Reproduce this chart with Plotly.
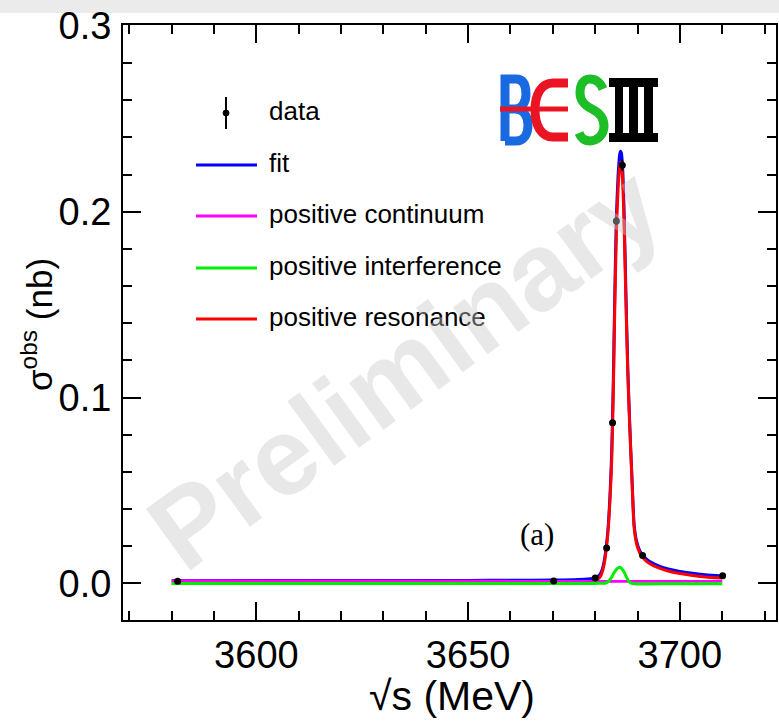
import plotly.graph_objects as go

# ---- measured cross sections (sqrt(s) in MeV, sigma in nb) ----
data_E = [3581.4, 3670.2, 3680.0, 3682.7, 3684.1, 3685.0, 3686.4, 3691.2, 3710.1]
data_sigma = [0.0011, 0.0013, 0.0029, 0.0190, 0.0865, 0.1950, 0.2250, 0.0150, 0.0041]
data_err = [0.0003, 0.0003, 0.0004, 0.0006, 0.0013, 0.0022, 0.0030, 0.0006, 0.0004]

# ---- fit curve and its components ----
curve_E = [3580, 3600, 3630, 3650, 3660, 3670, 3675, 3678, 3680, 3681, 3681.5,
           3682, 3682.6, 3683, 3683.5, 3683.9, 3684.3, 3684.6, 3685.0, 3685.4,
           3685.8, 3686.0, 3686.2, 3686.5, 3686.8, 3687.2, 3687.7, 3688.2,
           3688.7, 3689.2, 3689.8, 3690.5, 3691.2, 3692, 3693, 3695, 3697,
           3700, 3703, 3706, 3710]
fit_sigma = [0.0014, 0.0015, 0.0015, 0.0016, 0.0017, 0.0018, 0.0020, 0.0023, 0.0028,
             0.0045, 0.0065, 0.0105, 0.0195, 0.0285, 0.0475, 0.0705, 0.1110, 0.1520,
             0.1965, 0.2190, 0.2310, 0.2325, 0.2315, 0.2225, 0.2025, 0.1625, 0.1160,
             0.0835, 0.0560, 0.0315, 0.0225, 0.0178, 0.0152, 0.0133, 0.0116, 0.0094,
             0.0079, 0.0064, 0.0054, 0.0046, 0.0040]
resonance_sigma = [0.0000, 0.0001, 0.0001, 0.0002, 0.0003, 0.0004, 0.0006, 0.0009, 0.0015,
                   0.0030, 0.0050, 0.0090, 0.0180, 0.0270, 0.0450, 0.0660, 0.1050, 0.1450,
                   0.1880, 0.2120, 0.2245, 0.2265, 0.2255, 0.2160, 0.1960, 0.1570, 0.1130,
                   0.0820, 0.0550, 0.0300, 0.0210, 0.0165, 0.0140, 0.0121, 0.0104, 0.0083,
                   0.0068, 0.0053, 0.0043, 0.0035, 0.0029]

cont_E = [3580, 3610, 3650, 3690, 3710]
cont_sigma = [0.0013, 0.0012, 0.0012, 0.0011, 0.0011]

intf_E = [3580, 3640, 3680, 3682.5, 3683.2, 3683.8, 3684.4, 3685.0, 3685.6, 3686.2,
          3686.8, 3687.3, 3687.8, 3688.4, 3689, 3700, 3710]
intf_sigma = [0.0, 0.0, 0.0, 0.0002, 0.0012, 0.0030, 0.0055, 0.0075, 0.0086, 0.0082,
              0.0062, 0.0038, 0.0015, 0.0002, -0.0002, -0.0002, -0.0002]

legend_labels = ["data", "fit", "positive continuum", "positive interference",
                 "positive resonance"]
legend_colors = ["black", "#0000ff", "#ff00ff", "#00ee00", "#ff0000"]

# ---- canvas geometry (pixels) ----
W_FIG, H_FIG = 779, 722
M_L, M_R, M_T, M_B = 123, 3, 25, 102
PW = W_FIG - M_L - M_R
PH = H_FIG - M_T - M_B


def px_x(px):
    return (px - M_L) / PW


def px_y(py):
    return (H_FIG - M_B - py) / PH


fig = go.Figure()

line_w = 3
fig.add_trace(go.Scatter(x=curve_E, y=fit_sigma, mode="lines", name="fit",
                         line=dict(color=legend_colors[1], width=line_w, shape="spline",
                                   smoothing=0.6)))
fig.add_trace(go.Scatter(x=curve_E, y=resonance_sigma, mode="lines", name="positive resonance",
                         line=dict(color=legend_colors[4], width=line_w, shape="spline",
                                   smoothing=0.6)))
fig.add_trace(go.Scatter(x=cont_E, y=cont_sigma, mode="lines", name="positive continuum",
                         line=dict(color=legend_colors[2], width=line_w)))
fig.add_trace(go.Scatter(x=intf_E, y=intf_sigma, mode="lines", name="positive interference",
                         line=dict(color=legend_colors[3], width=line_w, shape="spline",
                                   smoothing=0.6)))
fig.add_trace(go.Scatter(x=data_E, y=data_sigma, mode="markers", name="data",
                         marker=dict(color="black", size=7),
                         error_y=dict(type="data", array=data_err, color="black",
                                      thickness=2, width=0)))

sans = "Liberation Sans, Arial, Helvetica, sans-serif"
tick_font = dict(family=sans, size=38, color="black")

fig.update_xaxes(range=[3568.5, 3722.7], tick0=3600, dtick=50, automargin=False,
                 ticks="inside", ticklen=18, tickwidth=1.5, tickcolor="black",
                 minor=dict(tick0=3570, dtick=10, ticks="inside", ticklen=9,
                            tickwidth=1.5, tickcolor="black"),
                 showline=True, linecolor="black", linewidth=2, mirror="allticks",
                 showgrid=False, zeroline=False, tickfont=tick_font,
                 ticklabelstandoff=0)
fig.update_yaxes(range=[-0.0197, 0.3005], tick0=0, dtick=0.1, tickformat=".1f",
                 automargin=False,
                 ticks="inside", ticklen=18, tickwidth=1.5, tickcolor="black",
                 minor=dict(dtick=0.02, ticks="inside", ticklen=9,
                            tickwidth=1.5, tickcolor="black"),
                 showline=True, linecolor="black", linewidth=2, mirror="allticks",
                 showgrid=False, zeroline=False, tickfont=tick_font,
                 ticklabelstandoff=2)

shapes = []
annotations = []

# axis titles
annotations.append(dict(text="√s (MeV)", xref="paper", yref="paper",
                        x=px_x(452), y=px_y(671), xanchor="center", yanchor="top",
                        showarrow=False, font=dict(family=sans, size=41, color="black")))
annotations.append(dict(text="σ<sup>obs</sup> (nb)", xref="paper", yref="paper",
                        x=px_x(37), y=px_y(325), xanchor="center", yanchor="middle",
                        textangle=-90, showarrow=False,
                        font=dict(family=sans, size=35, color="black")))

# light band across the top edge
shapes.append(dict(type="rect", xref="paper", yref="paper", layer="below",
                   x0=px_x(0), x1=px_x(W_FIG), y0=px_y(13), y1=px_y(0),
                   fillcolor="#ebebeb", line=dict(width=0)))

# legend block
leg_font = dict(family=sans, size=26, color="black")
leg_rows = [113, 165, 216, 268, 319]
for i, (lab, col) in enumerate(zip(legend_labels, legend_colors)):
    yy = leg_rows[i]
    if i == 0:
        shapes.append(dict(type="line", xref="paper", yref="paper",
                           x0=px_x(226), x1=px_x(226), y0=px_y(97), y1=px_y(129),
                           line=dict(color="black", width=2)))
        shapes.append(dict(type="circle", xref="paper", yref="paper",
                           x0=px_x(223), x1=px_x(229), y0=px_y(110), y1=px_y(116),
                           fillcolor="black", line=dict(color="black", width=1)))
    else:
        shapes.append(dict(type="line", xref="paper", yref="paper",
                           x0=px_x(196), x1=px_x(257), y0=px_y(yy), y1=px_y(yy),
                           line=dict(color=col, width=3)))
    annotations.append(dict(text=lab, xref="paper", yref="paper",
                            x=px_x(267), y=px_y(yy - 2), xanchor="left", yanchor="middle",
                            showarrow=False, font=leg_font))

# panel tag
annotations.append(dict(text="(a)", xref="paper", yref="paper", x=px_x(537), y=px_y(534),
                        xanchor="center", yanchor="middle", showarrow=False,
                        font=dict(family="Liberation Serif, DejaVu Serif", size=31,
                                  color="black")))


# BESIII logo drawn as stroked paths
def path_px(cmds):
    out = []
    for c in cmds:
        if isinstance(c, str):
            out.append(c)
        else:
            out.append("%.5f,%.5f" % (px_x(c[0]), px_y(c[1])))
    return " ".join(out)


blue_b = "rgb(25,105,225)"
red_e = "rgb(235,20,35)"
green_s = "rgb(30,190,40)"
shapes.append(dict(type="path", xref="paper", yref="paper",
                   path=path_px(["M", (505, 141), "L", (505, 79), "L", (516, 79),
                                 "C", (524, 79), (526, 86), (526, 94),
                                 "C", (526, 102), (522, 109), (515, 109),
                                 "L", (505, 109), "M", (515, 109),
                                 "C", (524, 109), (528, 117), (528, 125),
                                 "C", (528, 134), (524, 141), (516, 141),
                                 "L", (505, 141)]),
                   line=dict(color=blue_b, width=9)))
shapes.append(dict(type="path", xref="paper", yref="paper",
                   path=path_px(["M", (568, 83), "L", (553, 83),
                                 "C", (541, 83), (535, 95), (535, 110),
                                 "C", (535, 125), (541, 137), (553, 137),
                                 "L", (568, 137)]),
                   line=dict(color=red_e, width=9)))
shapes.append(dict(type="line", xref="paper", yref="paper",
                   x0=px_x(500), x1=px_x(568), y0=px_y(109), y1=px_y(109),
                   line=dict(color=red_e, width=5)))
shapes.append(dict(type="path", xref="paper", yref="paper",
                   path=path_px(["M", (603, 89), "C", (600, 82), (595, 79), (590, 79),
                                 "C", (583, 79), (580, 85), (580, 93),
                                 "C", (580, 102), (586, 106), (592, 109),
                                 "C", (598, 112), (604, 117), (604, 126),
                                 "C", (604, 135), (597, 141), (590, 141),
                                 "C", (585, 141), (581, 138), (579, 133)]),
                   line=dict(color=green_s, width=9)))
shapes.append(dict(type="rect", xref="paper", yref="paper",
                   x0=px_x(609), x1=px_x(658), y0=px_y(87), y1=px_y(78),
                   fillcolor="black", line=dict(width=0)))
shapes.append(dict(type="rect", xref="paper", yref="paper",
                   x0=px_x(609), x1=px_x(658), y0=px_y(142), y1=px_y(133),
                   fillcolor="black", line=dict(width=0)))
for (a, b) in [(615, 623), (629, 638), (644, 653)]:
    shapes.append(dict(type="rect", xref="paper", yref="paper",
                       x0=px_x(a), x1=px_x(b), y0=px_y(142), y1=px_y(78),
                       fillcolor="black", line=dict(width=0)))

# watermark
annotations.append(dict(text="<b>Preliminary</b>", xref="paper", yref="paper",
                        x=px_x(404), y=px_y(368), xanchor="center", yanchor="middle",
                        showarrow=False, textangle=-36,
                        font=dict(family=sans, size=110,
                                  color="rgba(200,200,200,0.42)")))

fig.update_layout(width=W_FIG, height=H_FIG, autosize=False,
                  margin=dict(l=M_L, r=M_R, t=M_T, b=M_B),
                  paper_bgcolor="white", plot_bgcolor="white",
                  showlegend=False, shapes=shapes, annotations=annotations)

fig.write_html("out.html")
